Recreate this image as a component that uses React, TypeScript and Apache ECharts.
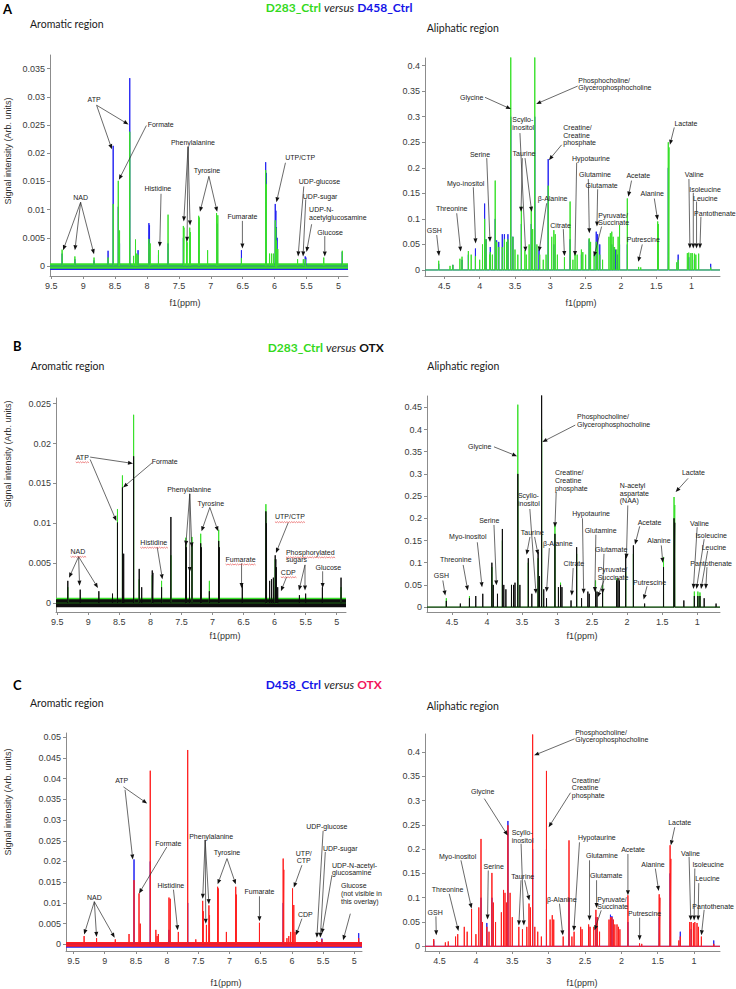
import React, { useEffect, useRef } from 'react';
import * as echarts from 'echarts';

const GREEN = '#38e02a';
const BLUE = '#2424f2';
const BLACK = '#0d0d0d';
const RED = '#ff1e1e';
const TITLE_GREEN = '#33d91c';
const TITLE_BLUE = '#1414e8';
const TITLE_RED = '#f2145a';

// ---------- tick labels ----------
const aromaticPpmTicks = [9.5, 9, 8.5, 8, 7.5, 7, 6.5, 6, 5.5, 5];
const aliphaticPpmTicks = [4.5, 4, 3.5, 3, 2.5, 2, 1.5, 1];
const ticksAL = [0, 0.005, 0.01, 0.015, 0.02, 0.025, 0.03, 0.035];
const ticksAR = [0, 0.05, 0.1, 0.15, 0.2, 0.25, 0.3, 0.35, 0.4];
const ticksBL = [0, 0.005, 0.01, 0.015, 0.02, 0.025];
const ticksBR = [0, 0.05, 0.1, 0.15, 0.2, 0.25, 0.3, 0.35, 0.4, 0.45];
const ticksCL = [0, 0.005, 0.01, 0.015, 0.02, 0.025, 0.03, 0.035, 0.04, 0.045, 0.05];
const ticksCR = [0, 0.05, 0.1, 0.15, 0.2, 0.25, 0.3, 0.35, 0.4];

// ---------- peak lists [ppm, intensity] ----------
// Panel A aromatic
const peaksAL_D283 = [[9.33,0.0029],[9.13,0.0017],[8.83,0.0015],[8.61,0.0015],[8.53,0.011],[8.45,0.0151],[8.43,0.0063],[8.27,0.0238],[8.21,0.0018],[8.18,0.0047],[8.16,0.0022],[8.14,0.002],[7.97,0.0048],[7.95,0.004],[7.82,0.0028],[7.67,0.0091],[7.43,0.0071],[7.42,0.0068],[7.38,0.0048],[7.37,0.0042],[7.33,0.0068],[7.32,0.006],[7.19,0.0089],[7.18,0.0086],[7.05,0.0028],[6.91,0.0094],[6.89,0.009],[6.52,0.0014],[6.14,0.017],[6.13,0.0145],[6.08,0.0022],[6.05,0.0022],[6.02,0.0022],[5.99,0.0081],[5.98,0.0068],[5.97,0.0045],[5.95,0.003],[5.64,0.0012],[5.55,0.0012],[5.52,0.0012],[5.23,0.0015],[4.94,0.0027]];
const peaksAL_D458 = [[9.33,0.0022],[9.13,0.0012],[8.83,0.001],[8.61,0.0027],[8.53,0.0213],[8.45,0.0105],[8.43,0.004],[8.27,0.0333],[8.18,0.0035],[8.14,0.0028],[7.97,0.0076],[7.96,0.0072],[7.82,0.002],[7.67,0.004],[7.43,0.005],[7.33,0.005],[7.19,0.0078],[6.9,0.0075],[6.52,0.0028],[6.14,0.0184],[6.13,0.0165],[5.99,0.011],[5.98,0.0098],[5.97,0.0069],[5.96,0.005],[5.52,0.0017],[5.51,0.0015],[4.94,0.0025]];
// Panel A aliphatic
const peaksAR_D283 = [[4.58,0.018],[4.42,0.008],[4.38,0.01],[4.28,0.022],[4.25,0.026],[4.16,0.037],[4.12,0.03],[4.06,0.027],[4.0,0.02],[3.96,0.05],[3.93,0.1],[3.91,0.06],[3.86,0.03],[3.85,0.035],[3.82,0.03],[3.78,0.175],[3.76,0.055],[3.73,0.045],[3.68,0.045],[3.65,0.06],[3.62,0.055],[3.6,0.06],[3.56,0.5],[3.53,0.065],[3.5,0.04],[3.46,0.03],[3.41,0.124],[3.36,0.039],[3.34,0.03],[3.3,0.05],[3.27,0.124],[3.25,0.08],[3.22,0.5],[3.19,0.05],[3.15,0.03],[3.1,0.02],[3.06,0.03],[3.03,0.165],[2.98,0.065],[2.95,0.078],[2.93,0.07],[2.9,0.03],[2.8,0.025],[2.72,0.134],[2.68,0.02],[2.65,0.035],[2.62,0.03],[2.56,0.04],[2.54,0.035],[2.5,0.03],[2.45,0.062],[2.43,0.055],[2.38,0.03],[2.35,0.055],[2.33,0.05],[2.3,0.03],[2.26,0.02],[2.17,0.065],[2.15,0.072],[2.13,0.075],[2.11,0.065],[2.09,0.045],[2.06,0.04],[2.04,0.065],[2.02,0.088],[1.91,0.14],[1.75,0.006],[1.72,0.005],[1.48,0.095],[1.47,0.09],[1.33,0.25],[1.32,0.24],[1.21,0.015],[1.19,0.02],[1.06,0.033],[1.04,0.034],[1.01,0.033],[0.99,0.033],[0.96,0.032],[0.94,0.03],[0.9,0.032],[0.73,0.005]];
const peaksAR_D458 = [[4.58,0.012],[4.38,0.01],[4.25,0.02],[4.16,0.03],[4.06,0.042],[3.93,0.13],[3.91,0.06],[3.85,0.045],[3.78,0.1],[3.76,0.058],[3.73,0.055],[3.68,0.07],[3.65,0.07],[3.6,0.07],[3.56,0.3],[3.53,0.065],[3.41,0.09],[3.27,0.09],[3.22,0.3],[3.16,0.04],[3.03,0.217],[2.95,0.05],[2.72,0.06],[2.56,0.03],[2.45,0.06],[2.35,0.075],[2.33,0.07],[2.3,0.05],[2.13,0.05],[2.1,0.045],[2.08,0.04],[2.05,0.03],[2.02,0.05],[1.91,0.05],[1.48,0.06],[1.33,0.2],[1.19,0.03],[1.04,0.025],[0.96,0.02],[0.73,0.012]];
// Panel B aromatic
const peaksBL_OTX = [[9.33,0.0028],[9.13,0.0017],[8.83,0.0015],[8.61,0.0012],[8.53,0.0101],[8.45,0.0145],[8.43,0.0062],[8.27,0.0184],[8.18,0.0043],[8.14,0.002],[7.97,0.0041],[7.96,0.0038],[7.82,0.002],[7.67,0.0108],[7.43,0.0078],[7.42,0.007],[7.37,0.0045],[7.33,0.0075],[7.19,0.0075],[7.18,0.007],[7.05,0.0015],[6.9,0.0078],[6.89,0.007],[6.52,0.0025],[6.14,0.0115],[6.13,0.01],[6.08,0.0028],[6.05,0.003],[6.02,0.0032],[5.99,0.006],[5.98,0.0055],[5.97,0.0045],[5.95,0.002],[5.6,0.001],[5.5,0.0012],[5.23,0.002],[4.93,0.0032]];
const peaksBL_D283 = [[9.33,0.002],[8.53,0.0118],[8.45,0.016],[8.27,0.0236],[8.18,0.003],[7.97,0.0035],[7.82,0.0028],[7.67,0.006],[7.43,0.0082],[7.33,0.0083],[7.19,0.0087],[7.05,0.0028],[6.9,0.0092],[6.14,0.0124],[5.99,0.0055],[4.93,0.002]];
// Panel B aliphatic
const peaksBR_OTX = [[4.58,0.014],[4.38,0.008],[4.25,0.02],[4.16,0.025],[4.06,0.03],[3.93,0.1],[3.91,0.05],[3.85,0.03],[3.78,0.176],[3.76,0.05],[3.73,0.04],[3.65,0.05],[3.62,0.05],[3.6,0.055],[3.56,0.3],[3.53,0.05],[3.41,0.11],[3.36,0.03],[3.27,0.124],[3.25,0.07],[3.22,0.6],[3.19,0.04],[3.15,0.02],[3.03,0.165],[2.98,0.045],[2.95,0.05],[2.93,0.045],[2.8,0.015],[2.72,0.135],[2.65,0.02],[2.56,0.035],[2.54,0.03],[2.45,0.04],[2.43,0.035],[2.35,0.04],[2.15,0.06],[2.13,0.065],[2.11,0.06],[2.02,0.12],[1.91,0.139],[1.75,0.008],[1.48,0.09],[1.33,0.2],[1.32,0.19],[1.19,0.015],[1.04,0.025],[0.99,0.025],[0.96,0.025],[0.9,0.02],[0.73,0.008]];
const peaksBR_D283 = [[4.58,0.02],[4.25,0.025],[3.93,0.09],[3.78,0.15],[3.65,0.05],[3.56,0.456],[3.41,0.1],[3.27,0.11],[3.22,0.4],[3.03,0.188],[2.95,0.055],[2.72,0.12],[2.45,0.06],[2.35,0.05],[2.15,0.065],[2.02,0.08],[1.91,0.12],[1.48,0.113],[1.33,0.248],[1.32,0.23],[1.04,0.035],[0.99,0.035],[0.96,0.033]];
// Panel C aromatic
const peaksCL_OTX = [[9.33,0.002],[9.13,0.0015],[8.83,0.0012],[8.61,0.0025],[8.53,0.0155],[8.45,0.0123],[8.43,0.005],[8.27,0.0419],[8.18,0.0035],[8.16,0.002],[8.14,0.0025],[7.97,0.0113],[7.95,0.011],[7.82,0.003],[7.67,0.0469],[7.54,0.0012],[7.43,0.0105],[7.42,0.008],[7.37,0.0047],[7.33,0.0094],[7.32,0.007],[7.19,0.0139],[7.18,0.0135],[7.05,0.003],[6.9,0.0139],[6.89,0.012],[6.52,0.0052],[6.14,0.0207],[6.13,0.018],[6.08,0.0015],[6.05,0.002],[6.02,0.003],[5.99,0.0135],[5.97,0.0095],[5.95,0.003],[5.6,0.0008],[5.52,0.0012],[4.93,0.0015]];
const peaksCL_D458 = [[8.53,0.0205],[8.27,0.02],[7.97,0.0035],[7.67,0.01],[6.14,0.01],[5.99,0.004],[5.52,0.0014],[4.93,0.0027]];
// Panel C aliphatic
const peaksCR_OTX = [[4.58,0.015],[4.42,0.008],[4.38,0.01],[4.28,0.02],[4.25,0.025],[4.16,0.04],[4.12,0.03],[4.06,0.077],[4.0,0.025],[3.96,0.08],[3.93,0.221],[3.91,0.05],[3.85,0.04],[3.82,0.03],[3.78,0.151],[3.76,0.09],[3.73,0.05],[3.65,0.07],[3.62,0.116],[3.6,0.11],[3.58,0.09],[3.56,0.249],[3.53,0.11],[3.5,0.06],[3.41,0.04],[3.36,0.035],[3.3,0.04],[3.27,0.088],[3.25,0.08],[3.22,0.436],[3.19,0.04],[3.15,0.03],[3.1,0.02],[3.03,0.361],[2.98,0.055],[2.95,0.064],[2.93,0.055],[2.8,0.02],[2.72,0.218],[2.68,0.02],[2.65,0.03],[2.56,0.04],[2.54,0.035],[2.45,0.045],[2.43,0.04],[2.38,0.04],[2.35,0.075],[2.33,0.06],[2.3,0.03],[2.17,0.055],[2.15,0.06],[2.13,0.06],[2.11,0.055],[2.09,0.045],[2.06,0.045],[2.04,0.04],[2.02,0.035],[1.91,0.105],[1.75,0.006],[1.72,0.005],[1.48,0.107],[1.47,0.1],[1.33,0.208],[1.32,0.18],[1.21,0.012],[1.19,0.02],[1.06,0.05],[1.04,0.05],[1.01,0.048],[0.99,0.05],[0.96,0.048],[0.94,0.04],[0.9,0.02],[0.73,0.005]];
const peaksCR_D458 = [[4.58,0.012],[3.93,0.1],[3.85,0.048],[3.78,0.1],[3.56,0.258],[3.22,0.2],[3.03,0.2],[2.72,0.1],[2.45,0.04],[2.35,0.06],[2.15,0.065],[2.13,0.062],[1.91,0.05],[1.48,0.06],[1.33,0.15],[1.19,0.03],[1.04,0.035],[0.73,0.012]];

// ---------- annotations: [text, x(ppm), y, align, arrows[[x0,y0,x1,y1]], underline] ----------
type Ann = [string, number, number, string, number[][], boolean?];
const annAL: Ann[] = [
  ['ATP', 8.83, 0.0295, 'center', [[8.79,0.0285,8.29,0.0251],[8.79,0.0285,8.55,0.0207]]],
  ['Formate', 7.99, 0.0251, 'left', [[8.01,0.0249,8.44,0.0153]]],
  ['Phenylalanine', 7.28, 0.0219, 'center', [[7.356,0.0211,7.424,0.0079],[7.356,0.0211,7.372,0.0043],[7.356,0.0211,7.325,0.0072]]],
  ['Tyrosine', 7.06, 0.017, 'center', [[7.03,0.0159,7.17,0.0096],[7.03,0.0159,6.9,0.0096]]],
  ['Histidine', 7.83, 0.0137, 'center', [[7.78,0.0128,7.8,0.0034]]],
  ['NAD', 9.04, 0.0122, 'center', [[9.04,0.0113,9.315,0.0028],[9.04,0.0113,9.13,0.0028],[9.04,0.0113,8.83,0.0021]]],
  ['Fumarate', 6.505, 0.0087, 'center', [[6.505,0.008,6.505,0.0031]]],
  ['UTP/CTP', 5.6, 0.0193, 'center', [[5.83,0.0183,5.972,0.0113]]],
  ['UDP-glucose', 5.298, 0.0149, 'center', [[5.543,0.0141,5.632,0.0017]]],
  ['UDP-sugar', 5.287, 0.0124, 'center', [[5.512,0.0118,5.554,0.0017]]],
  ['UDP-N-\nacetylglucosamine', 5.46, 0.0093, 'left', [[5.42,0.0074,5.5,0.0025]]],
  ['Glucose', 5.13, 0.006, 'center', [[5.214,0.0053,5.214,0.0017]]],
];
const annAR: Ann[] = [
  ['Glycine', 4.113, 0.338, 'center', [[3.925,0.338,3.557,0.315]]],
  ['Phosphocholine/\nGlycerophosphocholine', 2.604, 0.364, 'left', [[2.613,0.36,3.2,0.325]]],
  ['Scyllo-\ninositol', 3.538, 0.287, 'left', [[3.43,0.268,3.35,0.036]]],
  ['Creatine/\nCreatine\nphosphate', 2.816, 0.264, 'left', [[2.84,0.245,3.02,0.215]]],
  ['Taurine', 3.373, 0.228, 'center', [[3.396,0.219,3.415,0.114],[3.358,0.219,3.264,0.114]]],
  ['Serine', 3.995, 0.227, 'center', [[3.9,0.219,3.854,0.055]]],
  ['Myo-inositol', 4.198, 0.17, 'center', [[4.09,0.162,4.057,0.052]]],
  ['Threonine', 4.396, 0.121, 'center', [[4.325,0.111,4.269,0.036]]],
  ['GSH', 4.642, 0.077, 'center', [[4.608,0.0685,4.575,0.0274]]],
  ['β-Alanine', 2.967, 0.14, 'center', [[3.052,0.1306,3.16,0.036]]],
  ['Hypotaurine', 2.425, 0.219, 'center', [[2.627,0.21,2.651,0.0274]]],
  ['Citrate', 2.854, 0.088, 'center', [[2.816,0.08,2.8,0.0274]]],
  ['Glutamine', 2.368, 0.186, 'center', [[2.462,0.178,2.448,0.0718]]],
  ['Glutamate', 2.274, 0.165, 'center', [[2.33,0.158,2.34,0.085]]],
  ['Pyruvate/\nSuccinate', 2.32, 0.1, 'left', [[2.274,0.085,2.382,0.026]]],
  ['Acetate', 1.755, 0.184, 'center', [[1.85,0.175,1.896,0.1436]]],
  ['Alanine', 1.557, 0.149, 'center', [[1.528,0.14,1.481,0.098]]],
  ['Putrescine', 1.684, 0.0588, 'center', [[1.698,0.05,1.755,0.016]]],
  ['Lactate', 1.08, 0.286, 'center', [[1.245,0.279,1.307,0.245]]],
  ['Valine', 0.962, 0.186, 'center', [[1.038,0.178,1.024,0.042]]],
  ['Isoleucine', 0.81, 0.158, 'center', [[0.976,0.151,0.976,0.042]]],
  ['Leucine', 0.806, 0.14, 'center', [[0.93,0.134,0.93,0.042]]],
  ['Pantothenate', 0.67, 0.111, 'center', [[0.868,0.104,0.882,0.042]]],
];
const annBL: Ann[] = [
  ['ATP', 9.097, 0.0183, 'center', [[8.97,0.0183,8.28,0.0175],[8.97,0.018,8.548,0.0103]], true],
  ['Formate', 7.77, 0.01775, 'center', [[7.97,0.0176,8.44,0.0145]]],
  ['Phenylalanine', 7.376, 0.0143, 'center', [[7.366,0.0137,7.43,0.0072],[7.366,0.0137,7.366,0.0039],[7.366,0.0137,7.333,0.007]]],
  ['Tyrosine', 7.027, 0.0125, 'center', [[7.043,0.012,7.177,0.009],[7.043,0.012,6.909,0.009]]],
  ['Histidine', 7.946, 0.0076, 'center', [[7.89,0.007,7.806,0.003]], true],
  ['NAD', 9.167, 0.00646, 'center', [[9.156,0.00583,9.31,0.0032],[9.156,0.00583,9.14,0.0022],[9.156,0.00583,8.844,0.0019]], true],
  ['Fumarate', 6.548, 0.0055, 'center', [[6.532,0.005,6.532,0.0019]], true],
  ['UTP/CTP', 5.753, 0.0108, 'center', [[5.78,0.0101,5.978,0.0063]], true],
  ['CDP', 5.78, 0.0039, 'center', [[5.806,0.0033,5.898,0.0015]], true],
  ['Phosphorylated\nsugars', 5.817, 0.0059, 'left', [[5.51,0.0048,5.607,0.0016],[5.51,0.0048,5.51,0.0016]], true],
  ['Glucose', 5.134, 0.0045, 'center', [[5.226,0.004,5.226,0.0019]]],
];
const annBR: Ann[] = [
  ['Glycine', 4.104, 0.3626, 'center', [[3.9,0.361,3.57,0.34]]],
  ['Phosphocholine/\nGlycerophosphocholine', 2.714, 0.421, 'left', [[2.74,0.41,3.21,0.372]]],
  ['Lactate', 1.054, 0.3033, 'center', [[1.13,0.29,1.307,0.259]]],
  ['Creatine/\nCreatine\nphosphate', 3.03, 0.285, 'left', [[3.012,0.259,3.03,0.18]]],
  ['N-acetyl\naspartate\n(NAA)', 2.105, 0.257, 'left', [[1.99,0.229,2.01,0.109]]],
  ['Scyllo-\ninositol', 3.558, 0.242, 'left', [[3.388,0.221,3.3,0.03]]],
  ['Serine', 3.967, 0.195, 'center', [[3.9,0.185,3.865,0.049]]],
  ['Myo-inositol', 4.274, 0.158, 'center', [[4.138,0.146,4.07,0.045]]],
  ['Threonine', 4.445, 0.107, 'center', [[4.34,0.095,4.274,0.0375]]],
  ['GSH', 4.65, 0.071, 'center', [[4.63,0.06,4.595,0.026]]],
  ['Taurine', 3.353, 0.169, 'center', [[3.387,0.158,3.435,0.118],[3.32,0.158,3.27,0.118]]],
  ['β-Alanine', 2.99, 0.143, 'center', [[3.11,0.133,3.15,0.034]]],
  ['Citrate', 2.76, 0.098, 'center', [[2.77,0.088,2.79,0.026]]],
  ['Hypotaurine', 2.514, 0.21, 'center', [[2.637,0.2,2.62,0.03]]],
  ['Glutamine', 2.378, 0.173, 'center', [[2.446,0.163,2.46,0.034]]],
  ['Glutamate', 2.228, 0.129, 'center', [[2.33,0.12,2.35,0.03]]],
  ['Pyruvate/\nSuccinate', 2.42, 0.075, 'left', [[2.33,0.06,2.42,0.0225]]],
  ['Acetate', 1.68, 0.191, 'center', [[1.82,0.182,1.887,0.141]]],
  ['Alanine', 1.546, 0.15, 'center', [[1.512,0.139,1.49,0.1]]],
  ['Putrescine', 1.68, 0.056, 'center', [[1.716,0.047,1.764,0.017]]],
  ['Valine', 0.966, 0.188, 'center', [[1.0,0.18,1.054,0.041]]],
  ['Isoleucine', 0.8, 0.161, 'center', [[0.9,0.153,1.01,0.041]]],
  ['Leucine', 0.76, 0.135, 'center', [[0.85,0.127,0.945,0.041]]],
  ['Pantothenate', 0.8, 0.098, 'center', [[0.86,0.09,0.877,0.041]]],
];
const annCL: Ann[] = [
  ['ATP', 8.727, 0.0395, 'center', [[8.7,0.038,8.32,0.034],[8.674,0.0373,8.55,0.0205]]],
  ['Formate', 7.98, 0.0244, 'center', [[8.005,0.0235,8.45,0.0123]]],
  ['Phenylalanine', 7.294, 0.0261, 'center', [[7.39,0.0252,7.43,0.011],[7.39,0.0252,7.38,0.005],[7.39,0.0252,7.33,0.0097]]],
  ['Tyrosine', 7.04, 0.0221, 'center', [[7.04,0.0207,7.19,0.0145],[7.04,0.0207,6.9,0.0145]]],
  ['Histidine', 7.94, 0.0143, 'center', [[7.898,0.0132,7.83,0.0034]]],
  ['NAD', 9.166, 0.0113, 'center', [[9.166,0.0103,9.33,0.0024],[9.166,0.0103,9.13,0.0018],[9.166,0.0103,8.84,0.0016]]],
  ['Fumarate', 6.52, 0.0128, 'center', [[6.52,0.0116,6.52,0.0056]]],
  ['UTP/\nCTP', 5.81, 0.0211, 'center', [[5.84,0.0191,5.97,0.0137]]],
  ['CDP', 5.786, 0.0073, 'center', [[5.84,0.0062,5.936,0.0022]]],
  ['UDP-glucose', 5.44, 0.0285, 'center', [[5.5,0.0274,5.6,0.0016]]],
  ['UDP-sugar', 5.225, 0.0231, 'center', [[5.465,0.0223,5.545,0.0016]]],
  ['UDP-N-acetyl-\nglucosamine', 5.358, 0.0182, 'left', [[5.358,0.0167,5.52,0.0026]]],
  ['Glucose\n(not visible in\nthis overlay)', 5.214, 0.0123, 'left', [[5.064,0.0074,5.18,0.001]]],
];
const annCR: Ann[] = [
  ['Phosphocholine/\nGlycerophosphocholine', 2.635, 0.433, 'left', [[2.644,0.427,3.2,0.393]]],
  ['Creatine/\nCreatine\nphosphate', 2.681, 0.326, 'left', [[2.7,0.316,3.0,0.245]]],
  ['Glycine', 3.908, 0.318, 'center', [[3.885,0.304,3.563,0.228]]],
  ['Scyllo-\ninositol', 3.508, 0.226, 'left', [[3.379,0.211,3.34,0.043]]],
  ['Taurine', 3.356, 0.144, 'center', [[3.38,0.136,3.41,0.043],[3.33,0.136,3.265,0.0945]]],
  ['Myo-inositol', 4.252, 0.185, 'center', [[4.206,0.177,4.06,0.078]]],
  ['Serine', 3.756, 0.165, 'center', [[3.83,0.156,3.84,0.055]]],
  ['Threonine', 4.39, 0.116, 'center', [[4.367,0.108,4.24,0.0315]]],
  ['GSH', 4.56, 0.0705, 'center', [[4.55,0.0616,4.545,0.0226]]],
  ['β-Alanine', 2.819, 0.0959, 'center', [[2.851,0.0877,2.805,0.0226]]],
  ['Hypotaurine', 2.337, 0.223, 'center', [[2.576,0.214,2.654,0.0315]]],
  ['Glutamine', 2.268, 0.186, 'center', [[2.438,0.177,2.438,0.053]]],
  ['Glutamate', 2.208, 0.145, 'center', [[2.341,0.136,2.341,0.079]]],
  ['Pyruvate/\nSuccinate', 2.332, 0.089, 'left', [[2.277,0.074,2.369,0.033]]],
  ['Acetate', 1.84, 0.199, 'center', [[1.91,0.19,1.91,0.105]]],
  ['Alanine', 1.565, 0.168, 'center', [[1.533,0.16,1.487,0.114]]],
  ['Putrescine', 1.68, 0.067, 'center', [[1.749,0.059,1.749,0.0123]]],
  ['Lactate', 1.198, 0.254, 'center', [[1.266,0.245,1.32,0.208]]],
  ['Valine', 1.05, 0.19, 'center', [[1.069,0.184,1.046,0.053]]],
  ['Isoleucine', 0.807, 0.168, 'center', [[0.99,0.16,1.0,0.053]]],
  ['Leucine', 0.816, 0.139, 'center', [[0.936,0.13,0.945,0.053]]],
  ['Pantothenate', 0.738, 0.082, 'center', [[0.862,0.075,0.9,0.0226]]],
];

// ---------- layout ----------
const AX_FONT = '"Liberation Sans", Arial, sans-serif';
const T_FONT = 'Lato, "Open Sans", sans-serif';

const panels = [
  { g: [50, 55, 298, 221], x: [4.85, 9.52], y: [-0.00177, 0.0374], xt: aromaticPpmTicks, yt: ticksAL,
    under: { p: peaksAL_D458, c: BLUE, band: [-0.0007, 0.0003] }, over: { p: peaksAL_D283, c: GREEN, band: [-0.0005, 0.0005] }, ann: annAL },
  { g: [425, 58, 295, 218], x: [0.598, 4.774], y: [-0.0118, 0.415], xt: aliphaticPpmTicks, yt: ticksAR,
    under: { p: peaksAR_D458, c: BLUE }, over: { p: peaksAR_D283, c: GREEN }, ann: annAR },
  { g: [56, 398, 290, 214], x: [4.85, 9.52], y: [-0.0011, 0.0257], xt: aromaticPpmTicks, yt: ticksBL,
    under: { p: peaksBL_D283, c: GREEN, band: [-0.0004, 0.0007] }, over: { p: peaksBL_OTX, c: BLACK, band: [-0.0005, 0.0005] }, ann: annBL },
  { g: [427, 396, 293, 216], x: [0.674, 4.856], y: [-0.011, 0.4755], xt: aliphaticPpmTicks, yt: ticksBR,
    under: { p: peaksBR_D283, c: GREEN }, over: { p: peaksBR_OTX, c: BLACK }, ann: annBR },
  { g: [66, 733, 296, 218], x: [4.877, 9.62], y: [-0.0016, 0.051], xt: aromaticPpmTicks, yt: ticksCL,
    under: { p: peaksCL_D458, c: BLUE, band: [-0.0008, 0.0004] }, over: { p: peaksCL_OTX, c: RED, band: [-0.0006, 0.0006] }, ann: annCL },
  { g: [425, 734, 295, 217], x: [0.644, 4.70], y: [-0.0097, 0.437], xt: aliphaticPpmTicks, yt: ticksCR,
    under: { p: peaksCR_D458, c: BLUE }, over: { p: peaksCR_OTX, c: RED }, ann: annCR },
];

function spectrum(peaks: number[][], lo: number, hi: number) {
  const s = [...peaks].sort((a, b) => b[0] - a[0]);
  const pts: number[][] = [[hi, 0]];
  for (const [p, h] of s) {
    pts.push([p + 0.0008, 0], [p, h], [p - 0.0008, 0]);
  }
  pts.push([lo, 0]);
  return pts;
}

const fmt = (v: number) => String(parseFloat(Number(v).toFixed(4)));

let measureCtx: CanvasRenderingContext2D | null = null;
function textWidth(s: string, font: string) {
  if (!measureCtx) measureCtx = document.createElement('canvas').getContext('2d');
  if (!measureCtx) return s.length * 3.5;
  measureCtx.font = font;
  return measureCtx.measureText(s).width;
}

const ANN_SIZE = 7;
const ANN_LH = 7.8;

function annotationSeries(ann: Ann[], i: number) {
  return {
    type: 'custom',
    xAxisIndex: i,
    yAxisIndex: i,
    coordinateSystem: 'cartesian2d',
    clip: false,
    silent: true,
    z: 20,
    data: ann.map((a, k) => [a[1], a[2], k]),
    renderItem: (params: any, api: any) => {
      const a = ann[api.value(2)];
      const [tx, ty] = api.coord([a[1], a[2]]);
      const children: any[] = [];
      for (const ar of a[4]) {
        const [sx, sy] = api.coord([ar[0], ar[1]]);
        const [ex, ey] = api.coord([ar[2], ar[3]]);
        const dx = ex - sx, dy = ey - sy;
        const len = Math.sqrt(dx * dx + dy * dy) || 1;
        const ux = dx / len, uy = dy / len;
        const L = 5, W = 2;
        const bx = ex - ux * L, by = ey - uy * L;
        children.push({ type: 'line', shape: { x1: sx, y1: sy, x2: bx, y2: by }, style: { stroke: '#2a2a2a', lineWidth: 0.7 } });
        children.push({ type: 'polygon', shape: { points: [[ex, ey], [bx - uy * W, by + ux * W], [bx + uy * W, by - ux * W]] }, style: { fill: '#111' } });
      }
      children.push({
        type: 'text', x: tx, y: ty, rotation: 0.0001,
        style: { text: a[0], fill: '#222', fontSize: ANN_SIZE, fontFamily: AX_FONT, align: a[3], verticalAlign: 'middle', lineHeight: ANN_LH },
      });
      if (a[5]) {
        const lines = a[0].split('\n');
        const w = textWidth(lines[0], `${ANN_SIZE}px ${AX_FONT}`);
        const x0 = a[3] === 'left' ? tx : tx - w / 2;
        const yb = ty - (lines.length * ANN_LH) / 2 + ANN_LH + 1;
        const pts: number[][] = [];
        for (let k = 0; k <= Math.ceil(w / 1.2); k++) pts.push([x0 + k * 1.2, yb + (k % 2 ? 0.8 : -0.2)]);
        children.push({ type: 'polyline', shape: { points: pts }, style: { stroke: '#e03030', lineWidth: 0.6, fill: 'none' } });
      }
      return { type: 'group', children };
    },
  };
}

function lineSeries(s: any, p: any, i: number, z: number) {
  const ser: any = {
    type: 'line', xAxisIndex: i, yAxisIndex: i,
    data: spectrum(s.p, p.x[0], p.x[1]),
    showSymbol: false, symbol: 'none', silent: true, clip: true, z,
    lineStyle: { color: s.c, width: 1 }, itemStyle: { color: s.c },
  };
  if (s.band) {
    ser.markArea = {
      silent: true, itemStyle: { color: s.c, opacity: 1 },
      data: [[{ xAxis: p.x[1], yAxis: s.band[0] }, { xAxis: p.x[0], yAxis: s.band[1] }]],
    };
  }
  return ser;
}

function buildOption() {
  const axisColor = '#8c8c8c';
  const grid = panels.map(p => ({ left: p.g[0], top: p.g[1], width: p.g[2], height: p.g[3] }));
  const xAxis = panels.map((p, i) => ({
    type: 'value', gridIndex: i, position: 'bottom', inverse: true, min: p.x[0], max: p.x[1],
    axisLine: { show: true, onZero: false, lineStyle: { color: axisColor, width: 1 } },
    axisTick: { show: true, inside: false, length: 3, customValues: p.xt, lineStyle: { color: axisColor } },
    axisLabel: { customValues: p.xt, formatter: fmt, color: '#3a3a3a', fontSize: 9, fontFamily: AX_FONT, margin: 5, hideOverlap: false },
    splitLine: { show: false },
  }));
  const yAxis = panels.map((p, i) => ({
    type: 'value', gridIndex: i, position: 'left', min: p.y[0], max: p.y[1],
    axisLine: { show: true, onZero: false, lineStyle: { color: axisColor, width: 1 } },
    axisTick: { show: true, inside: false, length: 3, customValues: p.yt, lineStyle: { color: axisColor } },
    axisLabel: { customValues: p.yt, formatter: fmt, color: '#3a3a3a', fontSize: 9, fontFamily: AX_FONT, margin: 5 },
    splitLine: { show: false },
  }));
  const series: any[] = [];
  panels.forEach((p, i) => {
    series.push(lineSeries(p.under, p, i, 2));
    series.push(lineSeries(p.over, p, i, 3));
    series.push(annotationSeries(p.ann, i));
  });

  const txt = (x: number, y: number, text: string, extra: any = {}, style: any = {}) => ({
    type: 'text', x, y, silent: true, ...extra,
    style: { text, fill: '#1a1a1a', fontFamily: T_FONT, fontSize: 10.5, align: 'left', verticalAlign: 'middle', ...style },
  });
  const rich = {
    g: { fill: TITLE_GREEN, fontWeight: 'bold', fontFamily: T_FONT, fontSize: 12 },
    b: { fill: TITLE_BLUE, fontWeight: 'bold', fontFamily: T_FONT, fontSize: 12 },
    r: { fill: TITLE_RED, fontWeight: 'bold', fontFamily: T_FONT, fontSize: 12 },
    k: { fill: '#111', fontWeight: 'bold', fontFamily: T_FONT, fontSize: 12 },
    i: { fill: '#222', fontStyle: 'italic', fontFamily: T_FONT, fontSize: 11.5 },
  };
  const title = (x: number, y: number, t: string) => ({
    type: 'text', x, y, silent: true,
    style: { text: t, rich, align: 'left', verticalAlign: 'middle', fontFamily: T_FONT },
  });
  const ylab = (y: number) => txt(8, y, 'Signal intensity (Arb. units)', { rotation: Math.PI / 2 },
    { fontFamily: AX_FONT, fontSize: 9, align: 'center', fill: '#333' });
  const flab = (x: number, y: number) => txt(x, y, 'f1(ppm)', {}, { fontFamily: AX_FONT, fontSize: 9, align: 'center', fill: '#333' });
  const letter = (x: number, y: number, t: string) => txt(x, y, t, {}, { fontWeight: 'bold', fontSize: 13, fill: '#000' });

  const graphic = [
    letter(3, 9, 'A'), letter(13, 346, 'B'), letter(13, 685, 'C'),
    title(265.7, 7.5, '{g|D283_Ctrl} {i|versus} {b|D458_Ctrl}'),
    title(267.7, 347.5, '{g|D283_Ctrl} {i|versus} {k|OTX}'),
    title(265.7, 684.5, '{b|D458_Ctrl} {i|versus} {r|OTX}'),
    txt(30, 23.5, 'Aromatic region'), txt(426.7, 27.7, 'Aliphatic region'),
    txt(30.7, 366, 'Aromatic region'), txt(427.3, 366, 'Aliphatic region'),
    txt(30, 703.3, 'Aromatic region'), txt(426.7, 705.7, 'Aliphatic region'),
    ylab(151), ylab(454), ylab(802),
    flab(185, 303), flab(581, 303), flab(225, 636), flab(582, 636), flab(226, 983), flab(582, 983),
  ];

  return { animation: false, backgroundColor: '#ffffff', grid, xAxis, yAxis, series, graphic };
}

export default function App() {
  const ref = useRef<HTMLDivElement>(null);
  useEffect(() => {
    if (!ref.current) return;
    const chart = echarts.init(ref.current, undefined, { renderer: 'svg' });
    chart.setOption(buildOption() as any);
    return () => chart.dispose();
  }, []);
  return <div ref={ref} style={{ position: 'absolute', left: 0, top: 0, width: 736, height: 989, background: '#fff' }} />;
}
